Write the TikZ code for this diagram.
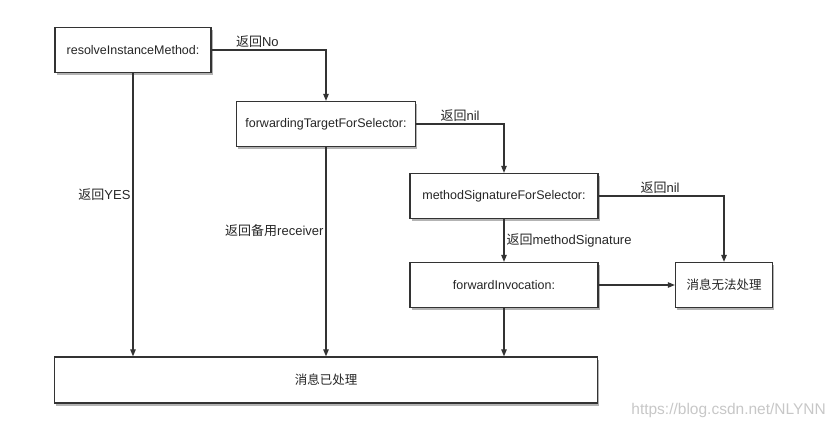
\documentclass[tikz,border=0pt]{standalone}
\usepackage{fontspec}
\setmainfont{Liberation Sans}
\newfontfamily\cjk{Noto Sans CJK SC}
\usetikzlibrary{arrows.meta,positioning,shadows}
\newcommand{\zh}[1]{{\cjk #1}}

\begin{document}
\begin{tikzpicture}[x=1pt,y=-1pt,>={Triangle[length=7pt,width=5.5pt]},on grid,
	box/.style={draw=black!80,line width=1.3pt,fill=white,minimum height=45pt,text=black!85,font=\fontsize{12.5}{14}\selectfont,drop shadow={shadow xshift=1.5pt,shadow yshift=-2.5pt,opacity=0.6}},
	lbl/.style={font=\fontsize{13}{15}\selectfont,text=black!85,inner sep=2pt},
	flow/.style={->,draw=black!80,line width=1.1pt}]
	\useasboundingbox (0,0) rectangle (836,431);
	\node[box,minimum width=156pt] (res)  at (133,50) {resolveInstanceMethod:};
	\node[box,minimum width=179pt] (fwd)  [below right=74pt and 193pt of res] {forwardingTargetForSelector:};
	\node[box,minimum width=188pt] (mss)  [below right=72pt and 178pt of fwd] {methodSignatureForSelector:};
	\node[box,minimum width=188pt] (inv)  [below=89pt of mss] {forwardInvocation:};
	\node[box,minimum width=97pt]  (fail) [right=220pt of inv] {\zh{消息无法处理}};
	\node[box,minimum width=543pt,minimum height=46pt] (done) [below=256pt of fwd] {\zh{消息已处理}};
	\node[font=\fontsize{15.5}{17}\selectfont,text=black!22,anchor=east,inner sep=0pt] (mark) at (826,410) {https://blog.csdn.net/NLYNN};

	\draw[flow] (res.east) -| node[lbl,pos=0.2,above] {\zh{返回}No} (fwd.north);
	\draw[flow] (res.south) -- node[lbl,pos=0.43,left] {\zh{返回}YES} (res.south |- done.north);
	\draw[flow] (fwd.east) -| node[lbl,pos=0.25,above] {\zh{返回}nil} (mss.north);
	\draw[flow] (fwd.south) -- node[lbl,pos=0.4,left] {\zh{返回备用}receiver} (done.north);
	\draw[flow] (mss.east) -| node[lbl,pos=0.245,above] {\zh{返回}nil} (fail.north);
	\draw[flow] (mss.south) -- node[lbl,pos=0.5,right] {\zh{返回}methodSignature} (inv.north);
	\draw[flow] (inv.east) -- (fail.west);
	\draw[flow] (inv.south) -- (inv.south |- done.north);
\end{tikzpicture}
\end{document}
